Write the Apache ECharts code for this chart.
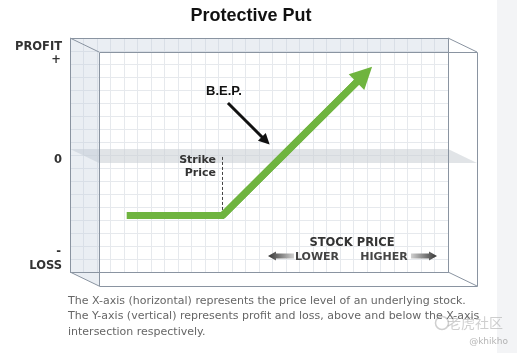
<!DOCTYPE html>
<html>
<head>
<meta charset="utf-8">
<script src="https://cdn.jsdelivr.net/npm/echarts@6/dist/echarts.min.js"></script>
<style>
  html, body { margin: 0; padding: 0; background: #fff; }
  #chart { width: 517px; height: 353px; }
</style>
</head>
<body>
<div id="chart"></div>
<script>
// grid units: x = stock price, y = profit / loss (0 = break-even level)
var payoffX = [4.2, 11.3, 21.8];
var payoffY = [-4.65, -4.65, 6.2];
var strikeX = [11.26, 11.26];
var strikeY = [-0.15, -4.25];
var bepX = [11.7, 14.5];
var bepY = [4.0, 1.1];
var zeroBand = [0.46, -0.69];

var captionLines = [
  'The X-axis (horizontal) represents the price level of an underlying stock.',
  'The Y-axis (vertical) represents profit and loss, above and below the X-axis',
  'intersection respectively.'
];

var GRID = { left: 70, top: 38, width: 378, height: 234 };
var DEPTH = [29, 14];

function zip(xs, ys) {
  return xs.map(function (x, i) { return [x, ys[i]]; });
}

function renderPayoffChart(chartID) {
  var echarts = window.echarts;
  var chartDom = document.getElementById(chartID);
  var myChart = echarts.init(chartDom);
  var green = '#6fb43f';
  var payoff = zip(payoffX, payoffY);

  var option = {
    animation: false,
    backgroundColor: '#fff',
    grid: {
      left: GRID.left,
      top: GRID.top,
      width: GRID.width,
      height: GRID.height,
      containLabel: false
    },
    xAxis: {
      type: 'value',
      min: 0,
      max: 28,
      interval: 1,
      axisLine: { show: false },
      axisTick: { show: false },
      axisLabel: { show: false },
      splitLine: { lineStyle: { color: '#e6e9ed', width: 1 } }
    },
    yAxis: {
      type: 'value',
      min: -9,
      max: 9,
      interval: 1,
      axisLine: { show: false },
      axisTick: { show: false },
      axisLabel: { show: false },
      splitLine: { lineStyle: { color: '#e6e9ed', width: 1 } }
    },
    series: [
      {
        name: 'Payoff',
        type: 'line',
        data: payoff,
        showSymbol: false,
        symbol: 'none',
        z: 5,
        lineStyle: { color: green, width: 7, join: 'miter' }
      },
      {
        // arrow head on the rising leg
        type: 'lines',
        coordinateSystem: 'cartesian2d',
        z: 5,
        symbol: ['none', 'triangle'],
        symbolSize: 22,
        lineStyle: { color: green, width: 7, opacity: 1 },
        data: [{ coords: payoff.slice(1) }]
      },
      {
        type: 'lines',
        coordinateSystem: 'cartesian2d',
        z: 4,
        symbol: 'none',
        lineStyle: { color: '#444', width: 1, type: [3, 2], opacity: 1 },
        data: [{ coords: zip(strikeX, strikeY) }]
      },
      {
        type: 'lines',
        coordinateSystem: 'cartesian2d',
        z: 5,
        symbol: ['none', 'triangle'],
        symbolSize: 11,
        lineStyle: { color: '#111', width: 3, opacity: 1 },
        data: [{ coords: zip(bepX, bepY) }]
      }
    ]
  };
  myChart.setOption(option);

  // 3d box decoration around the plot area
  var L = GRID.left, T = GRID.top, R = GRID.left + GRID.width, B = GRID.top + GRID.height;
  var dx = DEPTH[0], dy = DEPTH[1];
  var bandTop = myChart.convertToPixel({ gridIndex: 0 }, [0, zeroBand[0]])[1];
  var bandBot = myChart.convertToPixel({ gridIndex: 0 }, [0, zeroBand[1]])[1];
  var edge = { stroke: '#8a94a1', lineWidth: 1, fill: null };
  var tint = 'rgba(190, 203, 218, 0.32)';
  var labelFont = 'bold 11.5px "DejaVu Sans"';
  var wm = 'rgba(175, 175, 175, 0.6)';

  function txt(x, y, text, font, color, align) {
    return {
      type: 'text', x: x, y: y, z: 20,
      style: { text: text, font: font, fill: color, align: align || 'left', verticalAlign: 'middle' }
    };
  }

  var graphic = [
    { type: 'rect', shape: { x: 497, y: 0, width: 20, height: 353 }, style: { fill: '#f3f4f6' }, z: 1 },
    { type: 'polygon', z: 1, shape: { points: [[L, bandTop], [R, bandTop], [R + dx, bandTop + dy], [L + dx, bandTop + dy]] },
      style: { fill: 'rgba(200, 205, 212, 0.55)' } },
    { type: 'polygon', z: 1, shape: { points: [[L, T], [R, T], [R, T + dy], [L + dx, T + dy], [L + dx, B + dy], [L, B]] },
      style: { fill: tint } },
    { type: 'rect', z: 2, shape: { x: L + 0.5, y: T + 0.5, width: GRID.width, height: GRID.height }, style: edge },
    { type: 'rect', z: 2, shape: { x: L + dx + 0.5, y: T + dy + 0.5, width: GRID.width, height: GRID.height }, style: edge },
    { type: 'line', z: 2, shape: { x1: L, y1: T, x2: L + dx, y2: T + dy }, style: edge },
    { type: 'line', z: 2, shape: { x1: R, y1: T, x2: R + dx, y2: T + dy }, style: edge },
    { type: 'line', z: 2, shape: { x1: L, y1: B, x2: L + dx, y2: B + dy }, style: edge },
    { type: 'line', z: 2, shape: { x1: R, y1: B, x2: R + dx, y2: B + dy }, style: edge },

    txt(251, 16, 'Protective Put', 'bold 18px "Liberation Sans"', '#111', 'center'),
    txt(62, 47, 'PROFIT', labelFont, '#333', 'right'),
    txt(61, 60, '+', labelFont, '#333', 'right'),
    txt(62, 160, '0', labelFont, '#333', 'right'),
    txt(61, 252, '-', labelFont, '#333', 'right'),
    txt(62, 266, 'LOSS', labelFont, '#333', 'right'),
    txt(224, 91, 'B.E.P.', 'bold 13px "Liberation Sans"', '#111', 'center'),
    txt(216, 160, 'Strike', 'bold 11px "DejaVu Sans"', '#333', 'right'),
    txt(216, 173, 'Price', 'bold 11px "DejaVu Sans"', '#333', 'right'),
    txt(352, 243, 'STOCK PRICE', 'bold 11.5px "DejaVu Sans"', '#333', 'center'),
    txt(317, 257, 'LOWER', 'bold 11px "DejaVu Sans"', '#444', 'center'),
    txt(384, 257, 'HIGHER', 'bold 11px "DejaVu Sans"', '#444', 'center'),
    { type: 'polygon', z: 20,
      shape: { points: [[268, 256], [276, 251.5], [276, 253.5], [294, 253.5], [294, 258.5], [276, 258.5], [276, 260.5]] },
      style: { fill: new echarts.graphic.LinearGradient(0, 0, 1, 0, [{ offset: 0, color: '#333' }, { offset: 1, color: '#d0d0d0' }]) } },
    { type: 'polygon', z: 20,
      shape: { points: [[437, 256], [429, 251.5], [429, 253.5], [411, 253.5], [411, 258.5], [429, 258.5], [429, 260.5]] },
      style: { fill: new echarts.graphic.LinearGradient(0, 0, 1, 0, [{ offset: 0, color: '#d0d0d0' }, { offset: 1, color: '#333' }]) } },
    { type: 'circle', z: 20, shape: { cx: 442, cy: 323, r: 6.5 }, style: { fill: null, stroke: wm, lineWidth: 1.5 } },
    txt(503, 323, '\u8001\u864e\u793e\u533a', '14px "Noto Sans CJK SC"', wm, 'right'),
    txt(508, 342, '@khikho', '9px "DejaVu Sans"', 'rgba(150,150,150,0.7)', 'right')
  ];

  captionLines.forEach(function (line, i) {
    graphic.push(txt(68, 301 + i * 15.5, line, '11px "DejaVu Sans"', '#666', 'left'));
  });

  myChart.setOption({ graphic: graphic });
}

renderPayoffChart('chart');
</script>
</body>
</html>
